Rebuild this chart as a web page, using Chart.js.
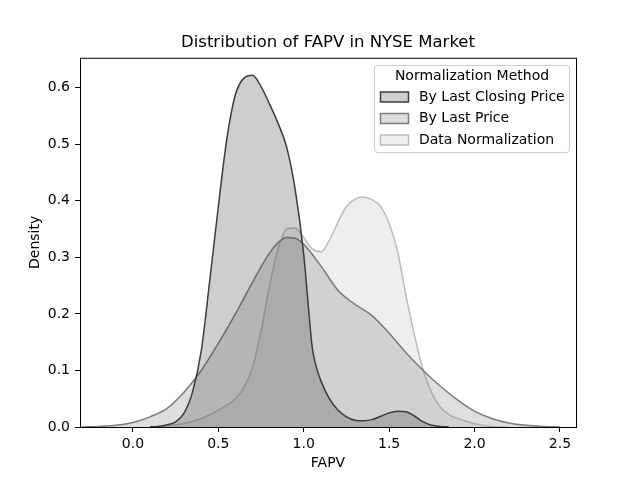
<!DOCTYPE html>
<html>
<head>
<meta charset="utf-8">
<script src="https://cdn.jsdelivr.net/npm/chart.js@4"></script>
<style>
  html, body { margin: 0; padding: 0; background: #fff; }
  #wrap { width: 640px; height: 480px; }
</style>
</head>
<body>
<div id="wrap"><canvas id="myChart" width="640" height="480"></canvas></div>
<script>
// values
const closingX = [0.1, 0.15, 0.2, 0.25, 0.3, 0.35, 0.4, 0.45, 0.5, 0.55, 0.6, 0.65, 0.7, 0.75, 0.8, 0.85, 0.9, 0.95, 1.0, 1.025, 1.05, 1.075, 1.1, 1.15, 1.2, 1.25, 1.3, 1.35, 1.4, 1.45, 1.5, 1.55, 1.6, 1.65, 1.7, 1.75, 1.8, 1.85];
const closingY = [0, 0.001, 0.004, 0.009, 0.025, 0.063, 0.135, 0.26, 0.39, 0.51, 0.588, 0.617, 0.622, 0.602, 0.571, 0.537, 0.495, 0.42, 0.305, 0.22, 0.14, 0.105, 0.082, 0.05, 0.03, 0.018, 0.012, 0.011, 0.013, 0.019, 0.025, 0.028, 0.027, 0.019, 0.009, 0.003, 0.001, 0];

const lastX = [-0.3, -0.2, -0.1, 0.0, 0.1, 0.2, 0.3, 0.4, 0.5, 0.6, 0.7, 0.8, 0.85, 0.9, 0.95, 1.0, 1.1, 1.2, 1.3, 1.4, 1.5, 1.6, 1.7, 1.8, 1.9, 2.0, 2.1, 2.2, 2.3, 2.4, 2.5];
const lastY = [0, 0.001, 0.003, 0.008, 0.018, 0.033, 0.062, 0.1, 0.148, 0.2, 0.256, 0.308, 0.326, 0.335, 0.334, 0.323, 0.285, 0.242, 0.217, 0.197, 0.166, 0.131, 0.1, 0.072, 0.048, 0.028, 0.015, 0.007, 0.003, 0.001, 0];

const normX = [0.1, 0.2, 0.3, 0.4, 0.5, 0.6, 0.65, 0.7, 0.75, 0.8, 0.85, 0.9, 0.95, 1.0, 1.05, 1.1, 1.15, 1.2, 1.25, 1.3, 1.35, 1.4, 1.45, 1.5, 1.55, 1.6, 1.65, 1.7, 1.75, 1.8, 1.85, 1.9, 2.0, 2.1, 2.2];
const normY = [0, 0.002, 0.006, 0.015, 0.03, 0.05, 0.07, 0.105, 0.17, 0.25, 0.315, 0.35, 0.352, 0.335, 0.315, 0.31, 0.33, 0.362, 0.39, 0.403, 0.407, 0.402, 0.39, 0.36, 0.31, 0.23, 0.16, 0.1, 0.06, 0.035, 0.022, 0.015, 0.006, 0.001, 0];

const seriesLabels = ["By Last Closing Price", "By Last Price", "Data Normalization"];
const edgeColors = ["#3c3c3c", "#7b7b7b", "#bdbdbd"];
const fillColors = ["rgba(60, 60, 60, 0.25)", "rgba(123, 123, 123, 0.25)", "rgba(189, 189, 189, 0.25)"];

const xTicks = [0.0, 0.5, 1.0, 1.5, 2.0, 2.5];
const yTicks = [0.0, 0.1, 0.2, 0.3, 0.4, 0.5, 0.6];

const FONT = "'DejaVu Sans', sans-serif";

function toPoints(xs, ys) {
  return xs.map((x, i) => ({ x: x, y: ys[i] }));
}

const datasets = [
  [closingX, closingY],
  [lastX, lastY],
  [normX, normY],
].map(([xs, ys], i) => ({
  label: seriesLabels[i],
  data: toPoints(xs, ys),
  borderColor: edgeColors[i],
  backgroundColor: fillColors[i],
  borderWidth: 1.5,
  fill: "origin",
  pointRadius: 0,
  cubicInterpolationMode: "monotone",
}));

// frame on all four sides plus the legend box in the upper right
const framePlugin = {
  id: "frame",
  afterLayout(chart) {
    // centre the title over the plot area, like matplotlib does
    if (chart.titleBlock) {
      chart.titleBlock.left = chart.chartArea.left;
      chart.titleBlock.right = chart.chartArea.right;
      chart.titleBlock.width = chart.chartArea.right - chart.chartArea.left;
    }
  },
  afterDraw(chart) {
    const { ctx, chartArea: a } = chart;
    ctx.save();
    ctx.strokeStyle = "#000";
    ctx.lineWidth = 1;
    ctx.strokeRect(a.left + 0.5, a.top + 0.5, a.right - a.left, a.bottom - a.top);

    // legend
    const bx = 374.5, by = 65.5, bw = 195, bh = 87;
    ctx.fillStyle = "rgba(255,255,255,0.8)";
    ctx.strokeStyle = "#cccccc";
    ctx.beginPath();
    ctx.roundRect(bx, by, bw, bh, 3);
    ctx.fill();
    ctx.stroke();

    ctx.fillStyle = "#000";
    ctx.font = "14px " + FONT;
    ctx.textBaseline = "middle";
    ctx.textAlign = "center";
    ctx.fillText("Normalization Method", bx + bw / 2, 76);

    ctx.textAlign = "left";
    const rows = [97, 118.5, 140];
    chart.data.datasets.forEach((ds, i) => {
      const cy = rows[i];
      ctx.fillStyle = "#fff";
      ctx.fillRect(380.5, cy - 5, 28, 10);
      ctx.fillStyle = ds.backgroundColor;
      ctx.fillRect(380.5, cy - 5, 28, 10);
      ctx.strokeStyle = ds.borderColor;
      ctx.lineWidth = 1.5;
      ctx.strokeRect(380.5, cy - 5, 28, 10);
      ctx.fillStyle = "#000";
      ctx.fillText(ds.label, 419, cy);
    });
    ctx.restore();
  },
};

const ctx = document.getElementById("myChart").getContext("2d");
new Chart(ctx, {
  type: "line",
  data: { datasets: datasets },
  options: {
    responsive: false,
    animation: false,
    layout: { padding: { left: 0, right: 64, top: 0, bottom: 0 } },
    plugins: {
      legend: { display: false },
      tooltip: { enabled: false },
      title: {
        display: true,
        text: "Distribution of FAPV in NYSE Market",
        color: "#000",
        font: { family: FONT, size: 16.5, weight: "normal" },
        padding: { top: 33, bottom: 5 },
      },
    },
    scales: {
      x: {
        type: "linear",
        min: -0.31,
        max: 2.594,
        afterBuildTicks: (scale) => {
          scale.ticks = xTicks.map((v) => ({ value: v }));
        },
        afterFit: (scale) => {
          scale.height = 53;
        },
        ticks: {
          color: "#000",
          font: { family: FONT, size: 14 },
          padding: 4,
          maxRotation: 0,
          callback: (value) => Number(value).toFixed(1),
        },
        grid: { display: true, drawOnChartArea: false, drawTicks: true, tickLength: 5, color: "#000" },
        border: { display: false },
        title: {
          display: true,
          text: "FAPV",
          color: "#000",
          font: { family: FONT, size: 14 },
          padding: { top: 0, bottom: 8 },
        },
      },
      y: {
        type: "linear",
        min: 0,
        max: 0.653,
        afterBuildTicks: (scale) => {
          scale.ticks = yTicks.map((v) => ({ value: v }));
        },
        afterFit: (scale) => {
          scale.width = 80;
        },
        ticks: {
          color: "#000",
          font: { family: FONT, size: 14 },
          padding: 5,
          callback: (value) => Number(value).toFixed(1),
        },
        grid: { display: true, drawOnChartArea: false, drawTicks: true, tickLength: 5, color: "#000" },
        border: { display: false },
        title: {
          display: true,
          text: "Density",
          color: "#000",
          font: { family: FONT, size: 14 },
          padding: { top: 27, bottom: 0 },
        },
      },
    },
  },
  plugins: [framePlugin],
});
</script>
</body>
</html>
